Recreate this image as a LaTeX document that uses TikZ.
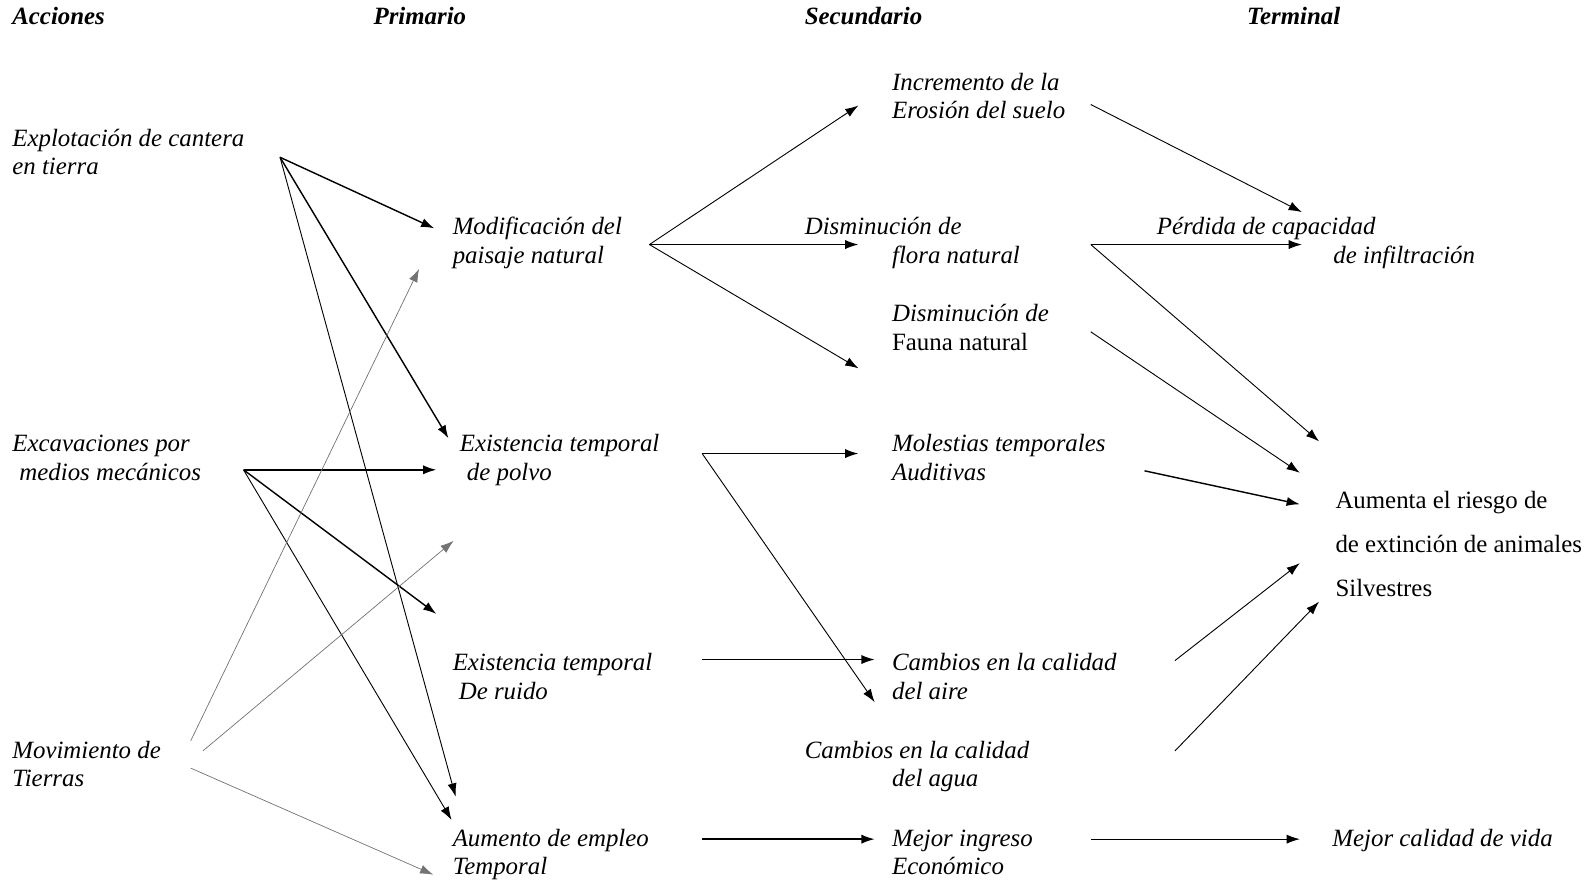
\documentclass[tikz,border=0pt]{standalone}
\usepackage{fontspec}
\setmainfont{Liberation Serif}
\usetikzlibrary{arrows.meta}
\begin{document}
\begin{tikzpicture}[x=1pt,y=-1pt,
  lbl/.style={anchor=north west, inner sep=0pt, align=left, font=\fontsize{24.5}{28}\selectfont\itshape},
  hdr/.style={anchor=north west, inner sep=0pt, font=\fontsize{24.5}{28}\selectfont\bfseries\itshape},
  arr/.style={-{Latex[length=13pt,width=9pt]}, line width=0.9pt},
  arrk/.style={arr, line width=1.4pt},
  arrg/.style={arr, draw=black!55, line width=0.7pt}]
\useasboundingbox (0,0) rectangle (1568,868);
% headers
\node[hdr] (hA) at (12,4.4) {\strut Acciones};
\node[hdr] (hP) at (368,4.4) {\strut Primario};
\node[hdr] (hS) at (793,4.4) {\strut Secundario};
\node[hdr] (hT) at (1229,4.4) {\strut Terminal};
% actions
\node[lbl] (expl) at (12,124.4) {\strut Explotación de cantera\\\strut en tierra};
\node[lbl] (excav) at (12,425.4) {\strut Excavaciones por\\\hspace*{7pt}\strut medios mecánicos};
\node[lbl] (movim) at (12,727.4) {\strut Movimiento de\\\strut Tierras};
% primary
\node[lbl] (modif) at (446,211.4) {\strut Modificación del\\\strut paisaje natural};
\node[lbl] (polvo) at (453,425.4) {\strut Existencia temporal\\\hspace*{7pt}\strut de polvo};
\node[lbl] (ruido) at (446,641.4) {\strut Existencia temporal\\\hspace*{6pt}\strut De ruido};
\node[lbl] (empleo) at (446,814.4) {\strut Aumento de empleo\\\strut Temporal};
% secondary
\node[lbl] (erosion) at (879,69.4) {\strut Incremento de la\\\strut Erosión del suelo};
\node[lbl] (flora) at (793,211.4) {\strut Disminución de\\\hspace*{86pt}\strut flora natural};
\node[lbl] (fauna) at (879,297.4) {\strut Disminución de\\\strut {\upshape Fauna natural}};
\node[lbl] (molest) at (879,425.4) {\strut Molestias temporales\\\strut Auditivas};
\node[lbl] (aire) at (879,641.4) {\strut Cambios en la calidad\\\strut del aire};
\node[lbl] (agua) at (793,727.4) {\strut Cambios en la calidad\\\hspace*{86pt}\strut del agua};
\node[lbl] (ingreso) at (879,814.4) {\strut Mejor ingreso\\\strut Económico};
% terminal
\node[lbl] (perdida) at (1140,211.4) {\strut Pérdida de capacidad\\\hspace*{174pt}\strut de infiltración};
\node[lbl, font=\fontsize{24.5}{28}\selectfont\upshape] (riesgo) at (1316,481.4) {\strut Aumenta el riesgo de\\[15.5pt]\strut de extinción de animales\\[15.5pt]\strut Silvestres};
\node[lbl] (vida) at (1313,814.4) {\strut Mejor calidad de vida};
% connector end points
\coordinate (expl-o) at (276,155);
\coordinate (excav-o) at (240,463);
\coordinate (movim-o1) at (188,730);
\coordinate (movim-o2) at (200,740);
\coordinate (movim-o3) at (188,757);
\coordinate (modif-i1) at (428,225);
\coordinate (modif-i2) at (413,265);
\coordinate (polvo-i1) at (442,432);
\coordinate (polvo-i2) at (430,463);
\coordinate (polvo-i3) at (447,533);
\coordinate (ruido-i1) at (430,605);
\coordinate (empleo-i1) at (449,785);
\coordinate (empleo-i2) at (445,808);
\coordinate (empleo-i3) at (427,862);
\coordinate (modif-o) at (640,241);
\coordinate (erosion-i) at (846,104);
\coordinate (flora-i) at (846,241);
\coordinate (fauna-i) at (846,363);
\coordinate (polvo-o) at (692,447);
\coordinate (molest-i) at (846,447);
\coordinate (aire-i1) at (862,692);
\coordinate (ruido-o) at (692,650);
\coordinate (aire-i2) at (862,650);
\coordinate (empleo-o) at (692,827);
\coordinate (ingreso-i) at (862,827);
\coordinate (erosion-o) at (1075,103);
\coordinate (perdida-i1) at (1283,209);
\coordinate (flora-o) at (1075,241);
\coordinate (perdida-i2) at (1283,241);
\coordinate (riesgo-i1) at (1300,435);
\coordinate (fauna-o) at (1075,327);
\coordinate (riesgo-i2) at (1281,466);
\coordinate (molest-o) at (1128,464);
\coordinate (riesgo-i3) at (1281,497);
\coordinate (aire-o) at (1158,651);
\coordinate (riesgo-i4) at (1281,555);
\coordinate (agua-o) at (1158,740);
\coordinate (riesgo-i5) at (1300,593);
\coordinate (ingreso-o) at (1075,827);
\coordinate (vida-i) at (1281,827);
% connectors
\draw[arrk] (expl-o) -- (modif-i1);
\draw[arrk] (expl-o) -- (polvo-i1);
\draw[arr] (expl-o) -- (empleo-i1);
\draw[arrk] (excav-o) -- (polvo-i2);
\draw[arrk] (excav-o) -- (ruido-i1);
\draw[arr] (excav-o) -- (empleo-i2);
\draw[arrg] (movim-o1) -- (modif-i2);
\draw[arrg] (movim-o2) -- (polvo-i3);
\draw[arrg] (movim-o3) -- (empleo-i3);
\draw[arr] (modif-o) -- (erosion-i);
\draw[arrk] (modif-o) -- (flora-i);
\draw[arr] (modif-o) -- (fauna-i);
\draw[arrk] (polvo-o) -- (molest-i);
\draw[arr] (polvo-o) -- (aire-i1);
\draw[arrk] (ruido-o) -- (aire-i2);
\draw[arrk] (empleo-o) -- (ingreso-i);
\draw[arr] (erosion-o) -- (perdida-i1);
\draw[arr] (flora-o) -- (perdida-i2);
\draw[arr] (flora-o) -- (riesgo-i1);
\draw[arr] (fauna-o) -- (riesgo-i2);
\draw[arrk] (molest-o) -- (riesgo-i3);
\draw[arr] (aire-o) -- (riesgo-i4);
\draw[arr] (agua-o) -- (riesgo-i5);
\draw[arr] (ingreso-o) -- (vida-i);
\end{tikzpicture}
\end{document}
